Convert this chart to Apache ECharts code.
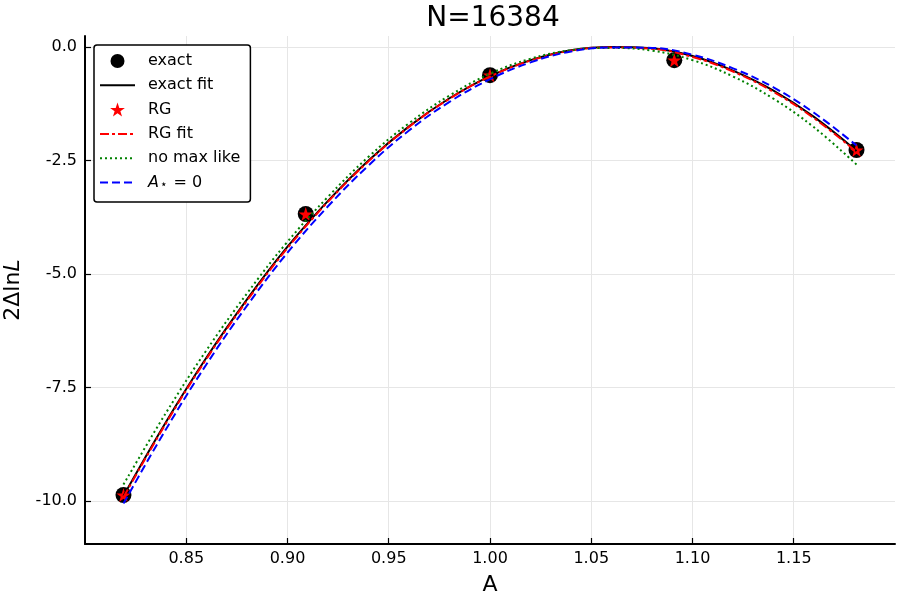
<!DOCTYPE html>
<html>
<head>
<meta charset="utf-8">
<title>N=16384</title>
<script src="https://cdn.jsdelivr.net/npm/echarts@6/dist/echarts.min.js"></script>
<style>
  html, body { margin: 0; padding: 0; background: #fff; }
  #chart { width: 900px; height: 600px; }
</style>
</head>
<body>
<div id="chart"></div>
<script>
// measured points
const ptsA = [0.819, 0.909, 1.0, 1.091, 1.181];
const exactPts = [-9.87, -3.68, -0.62, -0.29, -2.27];
const rgPts = [-9.87, -3.68, -0.62, -0.29, -2.27];

// fit curves
const fitA = [0.819, 0.84, 0.86, 0.88, 0.90, 0.92, 0.94, 0.96, 0.98, 1.00,
  1.02, 1.04, 1.06, 1.08, 1.10, 1.12, 1.14, 1.16, 1.181];
const exactFit = [-9.89, -8.26, -6.84, -5.56, -4.40, -3.39, -2.50, -1.75, -1.13, -0.64,
  -0.29, -0.07, 0.00, -0.03, -0.20, -0.52, -0.96, -1.54, -2.29];
const rgFit = [-9.92, -8.29, -6.87, -5.59, -4.43, -3.41, -2.52, -1.76, -1.14, -0.65,
  -0.30, -0.08, -0.01, -0.04, -0.22, -0.54, -0.99, -1.57, -2.31];
const noMaxLike = [-9.64, -8.06, -6.68, -5.43, -4.29, -3.30, -2.42, -1.68, -1.07, -0.59,
  -0.26, -0.07, -0.02, -0.08, -0.29, -0.65, -1.14, -1.77, -2.59];
const aStarZero = [-10.06, -8.42, -6.99, -5.70, -4.53, -3.51, -2.61, -1.84, -1.21, -0.71,
  -0.34, -0.10, -0.01, -0.02, -0.17, -0.47, -0.89, -1.45, -2.17];

// ticks
const xTicks = [0.85, 0.90, 0.95, 1.00, 1.05, 1.10, 1.15];
const yTicks = [-10, -7.5, -5, -2.5, 0];

const FONT = 'DejaVu Sans';
const STAR = 'path://M50,0 L61.8,35.1 L98.1,35.1 L68.8,56.7 L79.4,91 L50,70 L20.6,91 L31.2,56.7 L1.9,35.1 L38.2,35.1 Z';

const zip = (xs, ys) => xs.map((x, i) => [x, ys[i]]);

const chart = echarts.init(document.getElementById('chart'));

const lineSeries = (name, ys, color, type) => ({
  name: name,
  type: 'line',
  data: zip(fitA, ys),
  smooth: 0.4,
  symbol: 'none',
  lineStyle: { color: color, width: 2, type: type },
  itemStyle: { color: color }
});

// legend entry for a line: hide the dot ECharts puts in the middle
const lineEntry = name => ({
  name: name,
  itemStyle: { color: 'rgba(0,0,0,0)', borderWidth: 0 }
});

const options = {
  backgroundColor: '#fff',
  animation: false,
  textStyle: { fontFamily: FONT },
  title: {
    text: 'N=16384',
    left: 488,
    textAlign: 'center',
    top: 0,
    textStyle: { fontFamily: FONT, fontSize: 28, fontWeight: 'normal', color: '#000' }
  },
  grid: {
    left: 85,
    right: 5,
    top: 36,
    bottom: 56,
    outerBoundsMode: 'none'
  },
  legend: {
    orient: 'vertical',
    left: 94,
    top: 45,
    padding: [8, 10, 11, 5],
    itemWidth: 35,
    itemHeight: 14,
    itemGap: 8.3,
    backgroundColor: '#fff',
    borderColor: '#000',
    borderWidth: 1.5,
    borderRadius: 3,
    data: ['exact', lineEntry('exact fit'), 'RG', lineEntry('RG fit'),
      lineEntry('no max like'), lineEntry('A0')],
    formatter: function (name) {
      if (name === 'A0') return '{it|A}{sub|⋆}{n| = 0}';
      return name;
    },
    textStyle: {
      fontFamily: FONT,
      fontSize: 16,
      color: '#000',
      padding: [0, 0, 0, 8],
      rich: {
        it: { fontFamily: FONT, fontSize: 16, fontStyle: 'italic', color: '#000' },
        sub: { fontFamily: FONT, fontSize: 12, color: '#000', verticalAlign: 'bottom', padding: [5, 1, 0, 1] },
        n: { fontFamily: FONT, fontSize: 16, color: '#000' }
      }
    }
  },
  xAxis: {
    type: 'value',
    min: 0.8,
    max: 1.2,
    name: 'A',
    nameLocation: 'middle',
    nameGap: 30,
    nameTextStyle: { fontFamily: FONT, fontSize: 22, color: '#000' },
    axisLine: { onZero: false, lineStyle: { color: '#000', width: 2 } },
    axisTick: { inside: true, length: 6, customValues: xTicks, lineStyle: { color: '#000', width: 1.2 } },
    axisLabel: {
      customValues: xTicks,
      margin: 7,
      fontFamily: FONT,
      fontSize: 16,
      color: '#000',
      formatter: v => v.toFixed(2)
    },
    splitLine: { show: true, lineStyle: { color: '#e6e6e6', width: 1 } }
  },
  yAxis: {
    type: 'value',
    min: -10.95,
    max: 0.242,
    name: '2Δln{i|L}',
    nameLocation: 'middle',
    nameRotate: 90,
    nameGap: 60,
    nameTextStyle: {
      fontFamily: FONT,
      fontSize: 22,
      color: '#000',
      rich: { i: { fontFamily: FONT, fontSize: 22, fontStyle: 'italic', color: '#000' } }
    },
    axisLine: { onZero: false, lineStyle: { color: '#000', width: 2 } },
    axisTick: { inside: true, length: 6, customValues: yTicks, lineStyle: { color: '#000', width: 1.2 } },
    axisLabel: {
      customValues: yTicks,
      margin: 8,
      fontFamily: FONT,
      fontSize: 16,
      color: '#000',
      formatter: v => v.toFixed(1)
    },
    splitLine: { show: true, lineStyle: { color: '#e6e6e6', width: 1 } }
  },
  series: [
    {
      name: 'exact',
      type: 'scatter',
      data: zip(ptsA, exactPts),
      symbol: 'circle',
      symbolSize: 16,
      itemStyle: { color: '#000', opacity: 1 }
    },
    lineSeries('exact fit', exactFit, '#000', 'solid'),
    {
      name: 'RG',
      type: 'scatter',
      data: zip(ptsA, rgPts),
      symbol: STAR,
      symbolSize: 14,
      itemStyle: { color: '#ff0000', opacity: 1 }
    },
    lineSeries('RG fit', rgFit, '#ff0000', [9, 3, 3, 3]),
    lineSeries('no max like', noMaxLike, '#008000', [2, 3]),
    lineSeries('A0', aStarZero, '#0000ff', [8, 4])
  ]
};

chart.setOption(options);
</script>
</body>
</html>
